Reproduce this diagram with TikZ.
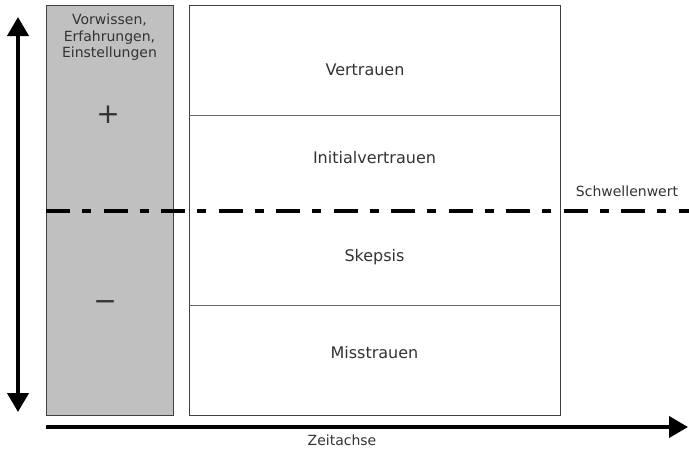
\documentclass[tikz,border=0pt]{standalone}
\usepackage{fontspec}
\setmainfont{DejaVu Sans}
\usetikzlibrary{arrows.meta}
\definecolor{txt}{HTML}{333333}
\definecolor{boxgray}{HTML}{C0C0C0}
\definecolor{edge}{HTML}{404040}
\begin{document}
\begin{tikzpicture}[x=1pt,y=-1pt,
  lbl/.style={text=txt,font=\fontsize{16}{19}\selectfont,inner sep=0pt},
  small/.style={text=txt,font=\fontsize{14}{16.5}\selectfont,inner sep=0pt},
  sign/.style={text=txt,font=\fontsize{28}{28}\selectfont,inner sep=0pt,anchor=base},
  axisarrow/.style={line width=4pt,-{Triangle[length=19pt,width=21pt]}},
  dualarrow/.style={line width=4pt,{Triangle[length=19pt,width=21pt]}-{Triangle[length=19pt,width=21pt]}},
  threshold/.style={line width=4.5pt,dash pattern=on 24pt off 12pt on 9pt off 12.5pt}]
\useasboundingbox (0,0) rectangle (689,450);
% left gray column
\draw[edge,fill=boxgray,line width=1pt] (46,5) rectangle (173,415);
% right white box
\draw[edge,line width=1pt] (189,5) rectangle (560,415);
\draw[edge!80,line width=1pt] (189,115) -- (560,115);
\draw[edge!80,line width=1pt] (189,305) -- (560,305);
% texts
\node[small,align=center,anchor=north] (vw) at (109.5,14) {Vorwissen,\\Erfahrungen,\\Einstellungen};
\node[sign] (plus) at (108,123) {+};
\node[sign] (minus) at (105,310) {−};
\node[lbl] (v) at (365,70) {Vertrauen};
\node[lbl] (iv) at (374.5,158) {Initialvertrauen};
\node[lbl] (sk) at (374.5,257) {Skepsis};
\node[lbl] (mt) at (374.5,353) {Misstrauen};
\node[small] (sw) at (627,191) {Schwellenwert};
\node[small] (za) at (342,440) {Zeitachse};
% threshold line
\coordinate (t1) at (46,211);
\coordinate (t2) at (689,211);
\draw[threshold] (t1) -- (t2);
% axes
\coordinate (vtop) at (18,17);
\coordinate (vbot) at (18,412);
\draw[dualarrow] (vbot) -- (vtop);
\coordinate (h1) at (46,427);
\coordinate (h2) at (688,427);
\draw[axisarrow] (h1) -- (h2);
\end{tikzpicture}
\end{document}
